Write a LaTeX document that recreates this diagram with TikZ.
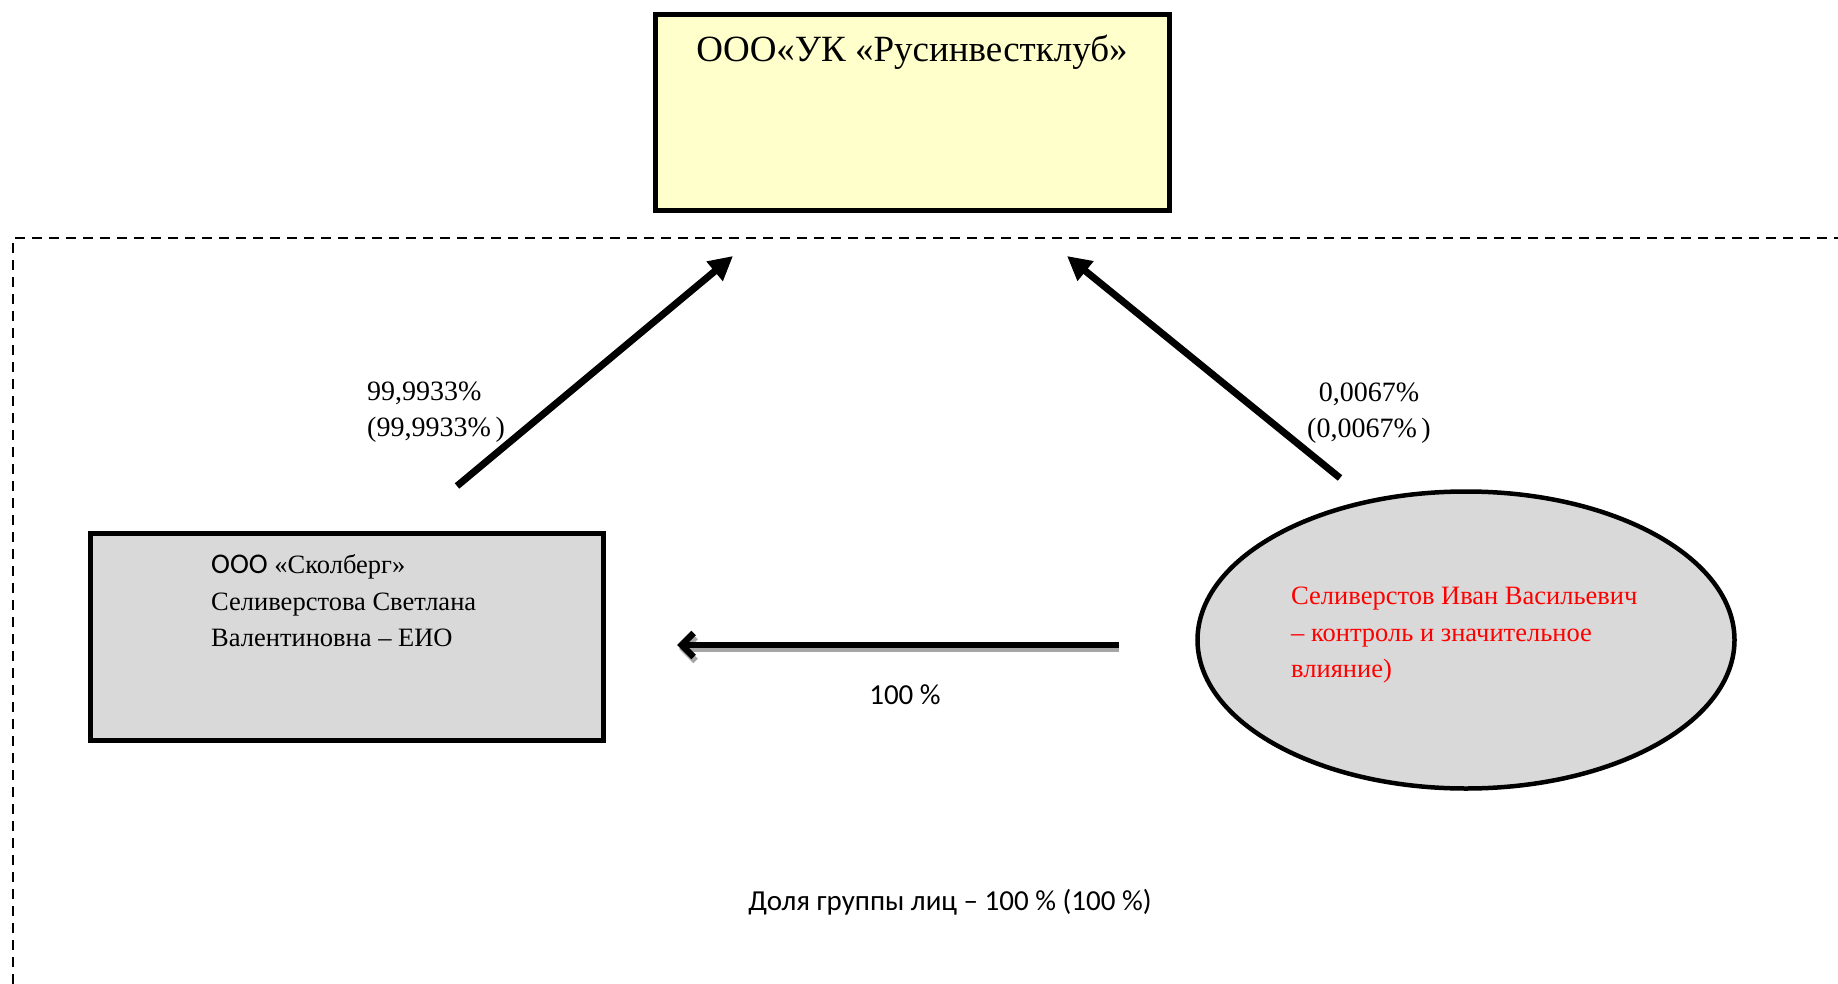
\documentclass[tikz,border=0pt]{standalone}
\usepackage{fontspec}
\setmainfont{Liberation Serif}
\newfontfamily\calfont{Carlito}
\usetikzlibrary{arrows.meta,shapes.geometric}
\definecolor{topfill}{HTML}{FFFFCC}
\definecolor{boxgray}{HTML}{D9D9D9}
\definecolor{shadowgray}{HTML}{A6A6A6}
\tikzset{
  entitybox/.style={draw, line width=5.5pt, inner sep=0pt},
  serifbig/.style={font=\fontsize{37}{44}\selectfont},
  seriftxt/.style={font=\fontsize{26.5}{37}\selectfont, align=left, inner sep=0pt},
  labeltxt/.style={font=\fontsize{28}{35}\selectfont, inner sep=0pt},
  caltxt/.style={font=\calfont\fontsize{29}{35}\selectfont, inner sep=0pt},
  diagarrow/.style={line width=7pt, -{Triangle[length=24pt,width=24pt]}},
  openarrow/.style={line width=6.5pt, -{Straight Barb[length=12pt,width=24pt]}},
  groupline/.style={line width=2pt, dash pattern=on 10pt off 7pt}
}
\begin{document}
\begin{tikzpicture}[x=1pt,y=-1pt]
\useasboundingbox (0,0) rectangle (1838,984);
\fill[white] (0,0) rectangle (1838,984);

% group boundary (dashed)
\coordinate (gB) at (13,984);
\coordinate (gTL) at (13,238);
\coordinate (gR) at (1838,238);
\draw[groupline] (gB) -- (gTL) -- (gR);

% top entity
\node[entitybox, fill=topfill, minimum width=514pt, minimum height=196pt] (uk) at (912.5,112.5) {};
\node[serifbig, anchor=base, inner sep=0pt] (uktxt) at (912,62) {ООО«УК «Русинвестклуб»};

% left entity
\node[entitybox, fill=boxgray, minimum width=513pt, minimum height=207pt] (skol) at (347,637) {};
\node[seriftxt, anchor=base west] (skol1) at (211,573) {{\calfont\fontsize{28.5}{37}\selectfont ООО} «Сколберг»};
\node[seriftxt, anchor=base west] (skol2) at (211,610) {Селиверстова Светлана};
\node[seriftxt, anchor=base west] (skol3) at (211,646) {Валентиновна – ЕИО};

% right entity
\node[ellipse, draw, line width=4.5pt, fill=boxgray, minimum width=537pt, minimum height=297pt, inner sep=0pt] (ivan) at (1466,640) {};
\node[seriftxt, text=red, anchor=base west] (ivan1) at (1291,604) {Селиверстов Иван Васильевич};
\node[seriftxt, text=red, anchor=base west] (ivan2) at (1291,641) {– контроль и значительное};
\node[seriftxt, text=red, anchor=base west] (ivan3) at (1291,677) {влияние)};

% arrow end points
\coordinate (aLs) at (457,486);
\coordinate (aLe) at (733,256);
\coordinate (aRs) at (1340,478);
\coordinate (aRe) at (1067,256);
\coordinate (aHs) at (1119,645);
\coordinate (aHe) at (677,645);
\coordinate (aHs2) at (1119,649);
\coordinate (aHe2) at (679,649);

\draw[diagarrow] (aLs) -- (aLe);
\draw[diagarrow] (aRs) -- (aRe);
\draw[openarrow, shadowgray] (aHs2) -- (aHe2);
\draw[openarrow] (aHs) -- (aHe);

% labels
\node[labeltxt, anchor=base west] (lL1) at (367,400) {99,9933\%};
\node[labeltxt, anchor=base west] (lL2) at (367,436) {(99,9933\%\,)};
\node[labeltxt, anchor=base] (lR1) at (1369,401) {0,0067\%};
\node[labeltxt, anchor=base] (lR2) at (1369,437) {(0,0067\%\,)};
\node[caltxt, anchor=base] (lH) at (905,704) {100 \%};
\node[caltxt, anchor=base] (grp) at (950,910) {Доля группы лиц – 100 \% (100 \%)};
\end{tikzpicture}
\end{document}
